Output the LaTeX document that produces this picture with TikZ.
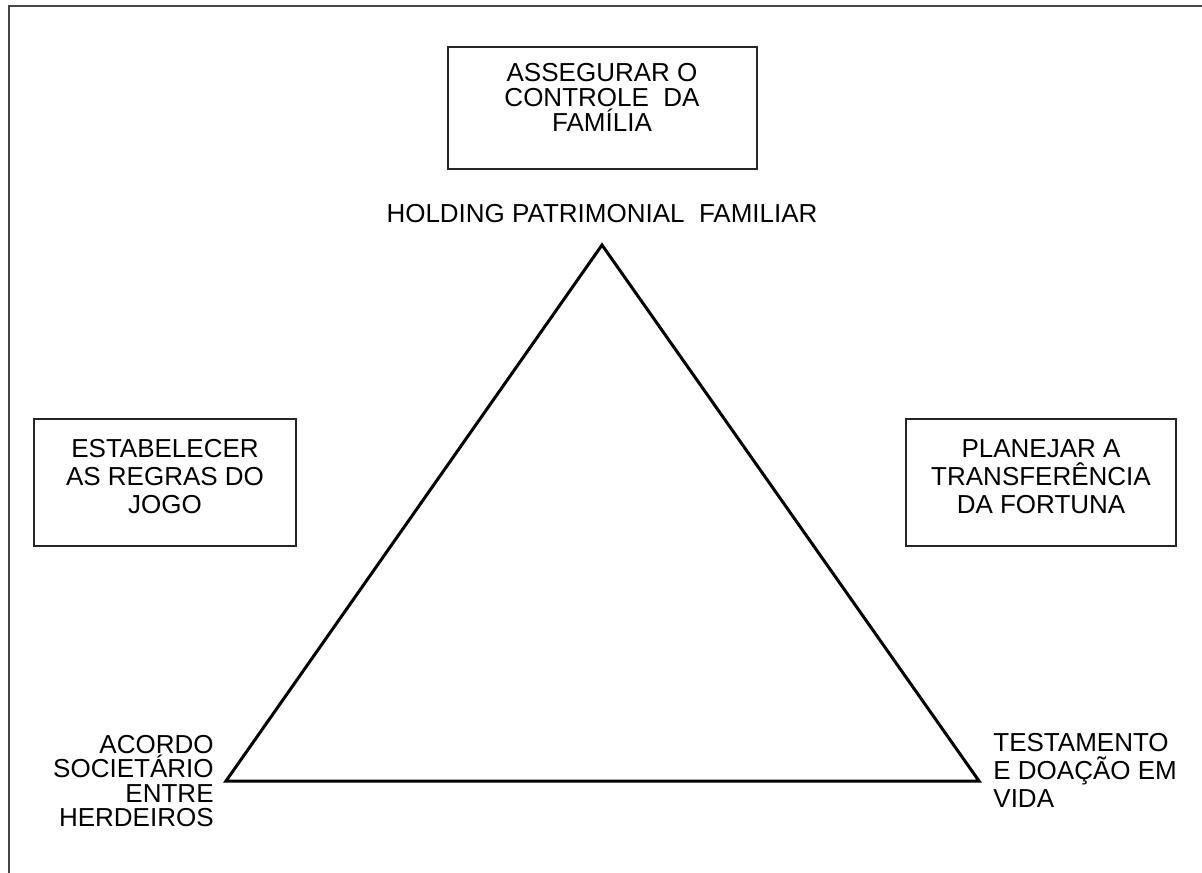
\documentclass[tikz,border=0pt]{standalone}
\usepackage{fontspec}
\setmainfont{Liberation Sans}
\begin{document}
\begin{tikzpicture}[x=0.5pt,y=-0.5pt,
  lbl/.style={font=\fontsize{13}{14}\selectfont, inner sep=0pt, text=black},
  boxn/.style={draw=black!85, line width=1pt, inner sep=0pt, rectangle},
  frameline/.style={draw=black!72, line width=1.3pt},
  tri/.style={draw=black, line width=1.5pt, line join=miter}
]
\useasboundingbox (0,0) rectangle (1202,872);
% outer frame (left and top edges only)
\coordinate (fb) at (9,890);
\coordinate (ftl) at (9,6);
\coordinate (ftr) at (1215,6);
\draw[frameline] (fb) -- (ftl) -- (ftr);

% boxes
\node[boxn, minimum width=154.5pt, minimum height=61pt] (topbox) at (602.5,108) {};
\node[boxn, minimum width=131pt, minimum height=63.5pt] (leftbox) at (165,482.5) {};
\node[boxn, minimum width=135pt, minimum height=63.5pt] (rightbox) at (1041,482.5) {};

\node[lbl, align=center, font=\fontsize{13}{12.5}\selectfont] (toptext) at (602,97)
  {ASSEGURAR O\\CONTROLE\ \ DA\\FAMÍLIA};
\node[lbl, align=center] (lefttext) at (165,477)
  {ESTABELECER\\AS REGRAS DO\\JOGO};
\node[lbl, align=center] (righttext) at (1041,477)
  {PLANEJAR A\\TRANSFERÊNCIA\\DA FORTUNA};

% triangle
\coordinate (apex) at (602,245);
\coordinate (bl) at (226,781);
\coordinate (br) at (979,781);
\draw[tri] (apex) -- (bl) -- (br) -- cycle;

\node[lbl] (holding) at (602,214) {HOLDING PATRIMONIAL\ \ FAMILIAR};
\node[lbl, align=right, anchor=east, font=\fontsize{13}{12.3}\selectfont] (bltext) at (214,781)
  {ACORDO\\SOCIETÁRIO\\ENTRE\\HERDEIROS};
\node[lbl, align=left, anchor=west] (brtext) at (993,770)
  {TESTAMENTO\\E DOAÇÃO EM\\VIDA};
\end{tikzpicture}
\end{document}
